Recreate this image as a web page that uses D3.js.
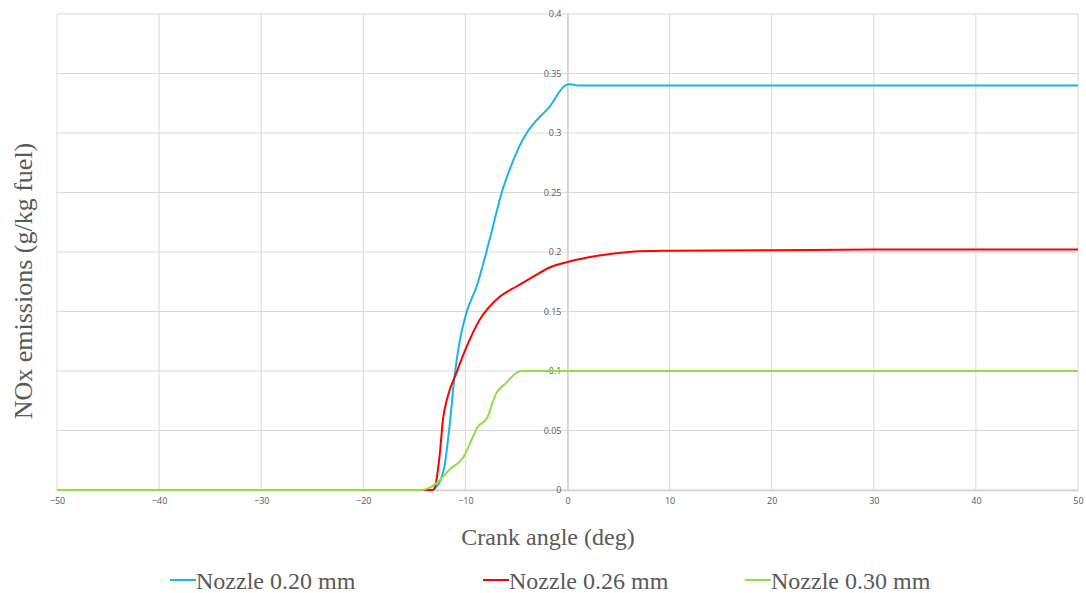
<!DOCTYPE html>
<html>
<head>
<meta charset="utf-8">
<script src="https://cdn.jsdelivr.net/npm/d3@7"></script>
<style>
  body { margin: 0; background: #fff; }
  .tick text { font-family: "Open Sans", sans-serif; font-size: 9px; fill: #595959; }
  .axisTitle { font-family: "Liberation Serif", serif; font-size: 24px; fill: #595959; }
  .legendText { font-family: "Liberation Serif", serif; font-size: 24px; fill: #595959; }
</style>
</head>
<body>
<div id="chart"></div>
<script>
// data
var seriesNames = ["Nozzle 0.20 mm", "Nozzle 0.26 mm", "Nozzle 0.30 mm"];
var seriesColors = ["#1cb3ec", "#ff0000", "#8ee03f"];

var angle020 = [-50, -20, -13.2, -12.9, -12.5, -12.05, -11.56, -11.07, -10.58, -9.9, -8.9, -7.64, -6.37, -5.68, -4.0, -3.4, -1.76, -0.2, 0.3, 1, 10, 20, 30, 40, 50];
var nox020   = [0, 0, 0, 0.002, 0.007, 0.02, 0.053, 0.095, 0.124, 0.149, 0.171, 0.21, 0.252, 0.269, 0.30, 0.307, 0.322, 0.340, 0.341, 0.340, 0.340, 0.340, 0.340, 0.340, 0.340];

var angle026 = [-50, -20, -13.2, -13.0, -12.5, -12.2, -11.75, -10.9, -9.9, -8.6, -6.7, -5.0, -3.4, -1.76, 0, 3.1, 6, 8, 10, 20, 30, 40, 50];
var nox026   = [0, 0, 0, 0.002, 0.031, 0.059, 0.078, 0.098, 0.12, 0.143, 0.162, 0.171, 0.179, 0.187, 0.1916, 0.197, 0.2, 0.2008, 0.201, 0.2015, 0.202, 0.202, 0.202];

var angle030 = [-50, -20, -14.2, -13.5, -12.8, -11.56, -10.1, -9.4, -8.8, -7.9, -7.0, -6.0, -4.9, -4.4, 0, 10, 20, 30, 40, 50];
var nox030   = [0, 0, 0, 0.002, 0.006, 0.017, 0.029, 0.042, 0.053, 0.06, 0.081, 0.09, 0.099, 0.1, 0.1, 0.1, 0.1, 0.1, 0.1, 0.1];

var xTicks = [-50, -40, -30, -20, -10, 0, 10, 20, 30, 40, 50];
var yTicks = [0, 0.05, 0.1, 0.15, 0.2, 0.25, 0.3, 0.35, 0.4];

var series = [
  {name: seriesNames[0], color: seriesColors[0], xs: angle020, ys: nox020},
  {name: seriesNames[1], color: seriesColors[1], xs: angle026, ys: nox026},
  {name: seriesNames[2], color: seriesColors[2], xs: angle030, ys: nox030}
];

var svgWidth = 1086;
var svgHeight = 593;
var margin = {top: 14, right: 8, bottom: 103, left: 57};
var chartWidth = svgWidth - margin.left - margin.right;
var chartHeight = svgHeight - margin.top - margin.bottom;

var svg = d3.select("#chart").append("svg")
  .attr("width", svgWidth)
  .attr("height", svgHeight);

var chartGroup = svg.append("g")
  .attr("transform", `translate(${margin.left}, ${margin.top})`);

var x = d3.scaleLinear().domain([-50, 50]).range([0, chartWidth]);
var y = d3.scaleLinear().domain([0, 0.4]).range([chartHeight, 0]);

// gridlines
chartGroup.append("g").selectAll("line")
  .data(xTicks).enter().append("line")
  .attr("x1", d => x(d)).attr("x2", d => x(d))
  .attr("y1", 0).attr("y2", chartHeight)
  .attr("stroke", "#d9d9d9").attr("stroke-width", 1);

chartGroup.append("g").selectAll("line")
  .data(yTicks).enter().append("line")
  .attr("x1", 0).attr("x2", chartWidth)
  .attr("y1", d => y(d)).attr("y2", d => y(d))
  .attr("stroke", "#d9d9d9").attr("stroke-width", 1);

// axes (x axis at the bottom, y axis crossing at 0)
var bottomAxis = d3.axisBottom(x).tickValues(xTicks).tickSize(0).tickPadding(8);
var leftAxis = d3.axisLeft(y).tickValues(yTicks).tickSize(0).tickPadding(6)
  .tickFormat(d => d3.format("")(+d.toFixed(2)));

var xAxisG = chartGroup.append("g")
  .attr("transform", `translate(0, ${chartHeight})`)
  .call(bottomAxis);
xAxisG.select(".domain").attr("stroke", "#d0d0d0").attr("stroke-width", 1.5);

var yAxisG = chartGroup.append("g")
  .attr("transform", `translate(${x(0)}, 0)`)
  .call(leftAxis);
yAxisG.select(".domain").attr("stroke", "#d0d0d0").attr("stroke-width", 1.5);

// lines
var line = d3.line()
  .x(d => x(d[0]))
  .y(d => y(d[1]))
  .curve(d3.curveMonotoneX);

chartGroup.selectAll(".series")
  .data(series).enter().append("path")
  .attr("class", "series")
  .attr("d", s => line(s.xs.map((a, i) => [a, s.ys[i]])))
  .attr("fill", "none")
  .attr("stroke", s => s.color)
  .attr("stroke-width", 2);

// axis titles
svg.append("text")
  .attr("class", "axisTitle")
  .attr("x", 548)
  .attr("y", 545)
  .attr("text-anchor", "middle")
  .text("Crank angle (deg)");

svg.append("text")
  .attr("class", "axisTitle")
  .style("font-size", "26px")
  .attr("transform", "translate(32, 281) rotate(-90)")
  .attr("text-anchor", "middle")
  .text("NOx emissions (g/kg fuel)");

// legend
var legendX = [170, 483, 745];
var legend = svg.selectAll(".legend")
  .data(series).enter().append("g")
  .attr("class", "legend")
  .attr("transform", (d, i) => `translate(${legendX[i]}, 580)`);

legend.append("line")
  .attr("x1", 0).attr("x2", 26)
  .attr("y1", 0).attr("y2", 0)
  .attr("stroke", d => d.color)
  .attr("stroke-width", 2);

legend.append("text")
  .attr("class", "legendText")
  .attr("x", 26)
  .attr("y", 9)
  .text(d => d.name);
</script>
</body>
</html>
